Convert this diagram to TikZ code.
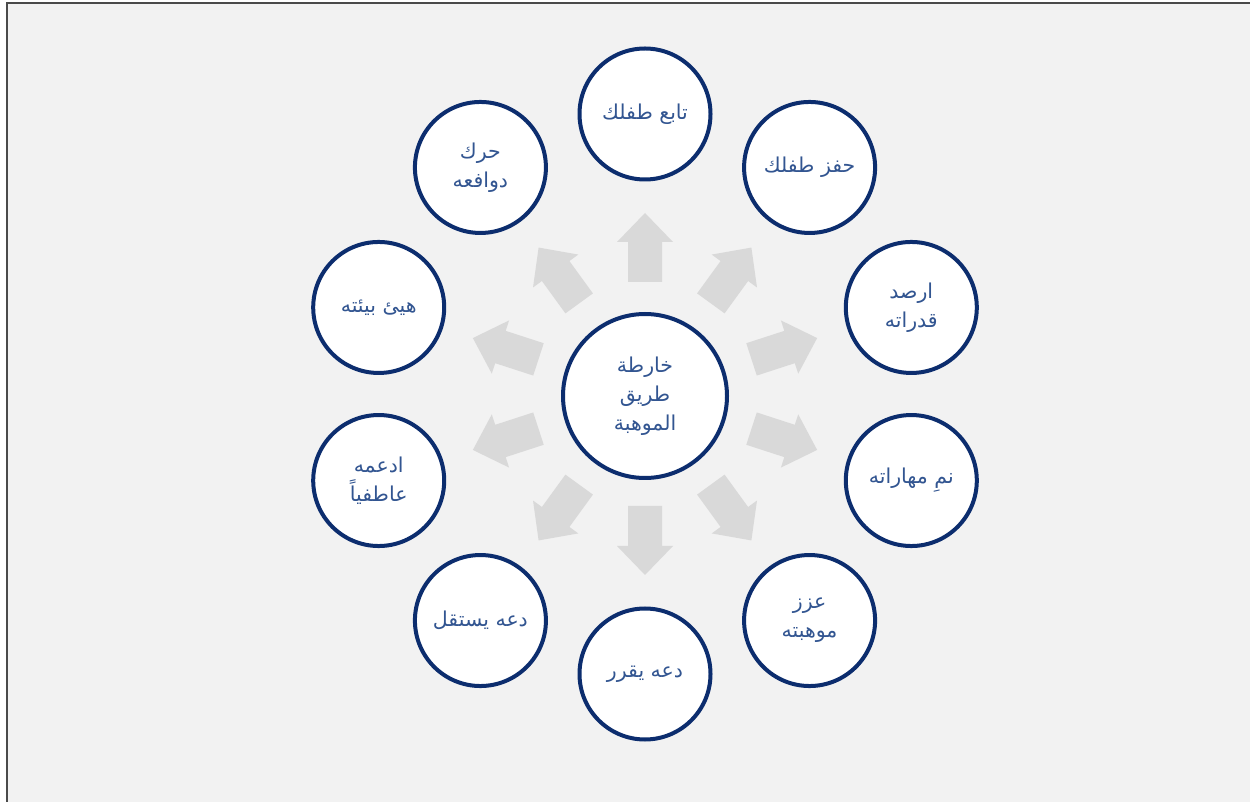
\documentclass[tikz,border=0pt]{standalone}
\usepackage{fontspec}
\usetikzlibrary{calc}
\newfontfamily\arabicfont[Script=Arabic]{DejaVu Sans}
\TeXXeTstate=1
\definecolor{bgc}{HTML}{F2F2F2}
\definecolor{framec}{HTML}{4A4A4A}
\definecolor{ringc}{RGB}{12,45,110}
\definecolor{txtc}{RGB}{50,85,145}
\definecolor{arrc}{HTML}{D9D9D9}
\newcommand\artxt[1]{\beginR #1\endR}
\begin{document}
\begin{tikzpicture}[x=1pt,y=1pt,
  ringnode/.style={circle,draw=ringc,line width=4pt,fill=white,text=txtc,
    inner sep=0pt,align=center,font=\arabicfont\fontsize{20.5}{29}\selectfont},
  outernode/.style={ringnode,minimum size=131pt},
  centernode/.style={ringnode,minimum size=164pt},
  blockarrow/.style={fill=arrc,draw=none}]
\useasboundingbox (0,0) rectangle (1250,801);
\clip (0,0) rectangle (1250,801);
\fill[white] (0,0) rectangle (1250,801);
\draw[fill=bgc,draw=framec,line width=2.5pt] (7,-20) rectangle (1270,798);
\coordinate (c) at (645,407);
\foreach \a in {90,54,18,-18,-54,-90,-126,-162,162,126}{
  \begin{scope}[shift={(c)},rotate=\a]
    \fill[blockarrow] (112,-17) -- (152,-17) -- (152,-28) -- (181,0) -- (152,28) -- (152,17) -- (112,17) -- cycle;
  \end{scope}
}
\node[centernode] (center) at ($(c)+(0,-2)$) {\artxt{خارطة}\\\artxt{طريق}\\\artxt{الموهبة}};
\node[outernode] (n1) at ($(c)+(90:280)$) {\artxt{تابع طفلك}};
\node[outernode] (n2) at ($(c)+(54:280)$) {\artxt{حفز طفلك}};
\node[outernode] (n3) at ($(c)+(18:280)$) {\artxt{ارصد}\\\artxt{قدراته}};
\node[outernode] (n4) at ($(c)+(-18:280)$) {\artxt{نمِ مهاراته}};
\node[outernode] (n5) at ($(c)+(-54:280)$) {\artxt{عزز}\\\artxt{موهبته}};
\node[outernode] (n6) at ($(c)+(-90:280)$) {\artxt{دعه يقرر}};
\node[outernode] (n7) at ($(c)+(-126:280)$) {\artxt{دعه يستقل}};
\node[outernode] (n8) at ($(c)+(-162:280)$) {\artxt{ادعمه}\\\artxt{عاطفياً}};
\node[outernode] (n9) at ($(c)+(162:280)$) {\artxt{هيئ بيئته}};
\node[outernode] (n10) at ($(c)+(126:280)$) {\artxt{حرك}\\\artxt{دوافعه}};
\end{tikzpicture}
\end{document}
